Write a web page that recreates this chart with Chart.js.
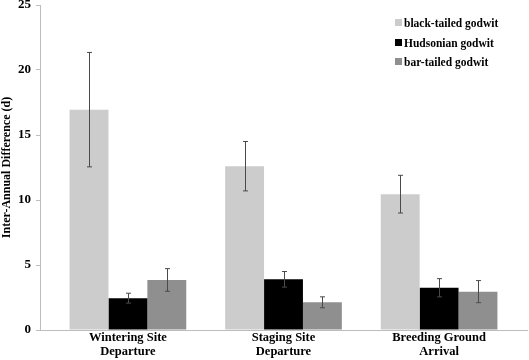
<!DOCTYPE html>
<html>
<head>
<meta charset="utf-8">
<script src="https://cdn.jsdelivr.net/npm/chart.js@4/dist/chart.umd.min.js"></script>
<style>
  html, body { margin: 0; padding: 0; background: #fff; }
  .wrap { position: relative; width: 529px; height: 360px; }
  .legend { position: absolute; left: 395px; top: 14px; font: bold 11.5px "Liberation Serif", "Times New Roman", serif; color: #000; }
  .legend div { height: 19.5px; line-height: 19.5px; white-space: nowrap; }
  .legend span { display: inline-block; width: 7px; height: 7px; margin-right: 2px; vertical-align: 1px; }
</style>
</head>
<body>
<div class="wrap">
  <canvas id="myChart" width="529" height="360"></canvas>
  <div class="legend"></div>
</div>
<script>
const stages = [["Wintering Site", "Departure"], ["Staging Site", "Departure"], ["Breeding Ground", "Arrival"]];
const species = ["black-tailed godwit", "Hudsonian godwit", "bar-tailed godwit"];
const colors = ["#cccccc", "#000000", "#8f8f8f"];

// mean inter-annual difference (d) per stage
const blackTailed = [16.95, 12.6, 10.45];
const hudsonian = [2.45, 3.9, 3.25];
const barTailed = [3.85, 2.13, 2.95];

// error bar half widths
const blackTailedErr = [4.4, 1.9, 1.45];
const hudsonianErr = [0.38, 0.6, 0.7];
const barTailedErr = [0.87, 0.42, 0.85];

const yTicks = [0, 5, 10, 15, 20, 25];

const means = [blackTailed, hudsonian, barTailed];
const errs = [blackTailedErr, hudsonianErr, barTailedErr];

const serif = "'Liberation Serif', 'Times New Roman', serif";

const datasets = species.map((name, s) => ({
  label: name,
  data: means[s].map((v, i) => ({ x: i, y: v })),
  errors: errs[s],
  backgroundColor: colors[s],
  borderWidth: 0,
  categoryPercentage: 0.75,
  barPercentage: 1
}));

// legend as plain text
const legend = document.querySelector(".legend");
species.forEach((name, s) => {
  const row = document.createElement("div");
  const box = document.createElement("span");
  box.style.background = colors[s];
  row.appendChild(box);
  row.appendChild(document.createTextNode(name));
  legend.appendChild(row);
});

const errorBars = {
  id: "errorBars",
  afterDatasetsDraw(chart) {
    const ctx = chart.ctx;
    const y = chart.scales.y;
    ctx.save();
    ctx.strokeStyle = "#4a4a4a";
    ctx.lineWidth = 1;
    chart.data.datasets.forEach((ds, d) => {
      const meta = chart.getDatasetMeta(d);
      meta.data.forEach((bar, i) => {
        const v = ds.data[i].y;
        const e = ds.errors[i];
        const x = Math.round(bar.x) + 0.5;
        const top = y.getPixelForValue(v + e);
        const bot = y.getPixelForValue(v - e);
        ctx.beginPath();
        ctx.moveTo(x, top);
        ctx.lineTo(x, bot);
        ctx.moveTo(x - 2.5, top);
        ctx.lineTo(x + 2.5, top);
        ctx.moveTo(x - 2.5, bot);
        ctx.lineTo(x + 2.5, bot);
        ctx.stroke();
      });
    });
    ctx.restore();
  }
};

new Chart(document.getElementById("myChart").getContext("2d"), {
  type: "bar",
  data: { datasets: datasets },
  plugins: [errorBars],
  options: {
    responsive: false,
    animation: false,
    layout: { padding: { top: 0, right: 2, left: 0, bottom: 0 } },
    plugins: { legend: { display: false }, tooltip: { enabled: false } },
    scales: {
      x: {
        type: "linear",
        offset: false,
        min: -0.565,
        max: 2.565,
        afterBuildTicks: (scale) => { scale.ticks = [0, 1, 2].map(v => ({ value: v })); },
        afterFit: (scale) => { scale.height = 30; },
        grid: { display: false, drawTicks: false },
        border: { color: "#bdbdbd", width: 1 },
        ticks: {
          padding: 1,
          maxRotation: 0,
          autoSkip: false,
          color: "#000",
          font: { family: serif, size: 12.5, weight: "bold", lineHeight: 1.1 },
          callback: (v) => stages[v]
        }
      },
      y: {
        min: 0,
        max: 25,
        afterBuildTicks: (scale) => { scale.ticks = yTicks.map(v => ({ value: v })); },
        afterFit: (scale) => { scale.width = 40; },
        grid: { drawOnChartArea: false, tickLength: 4, color: "#bdbdbd" },
        border: { color: "#bdbdbd", width: 1 },
        ticks: {
          padding: 5,
          color: "#000",
          font: { family: serif, size: 13, weight: "bold", lineHeight: 0 }
        },
        title: {
          display: true,
          text: "Inter-Annual Difference (d)",
          color: "#000",
          padding: 0,
          font: { family: serif, size: 12, weight: "bold" }
        }
      }
    }
  }
});
</script>
</body>
</html>
